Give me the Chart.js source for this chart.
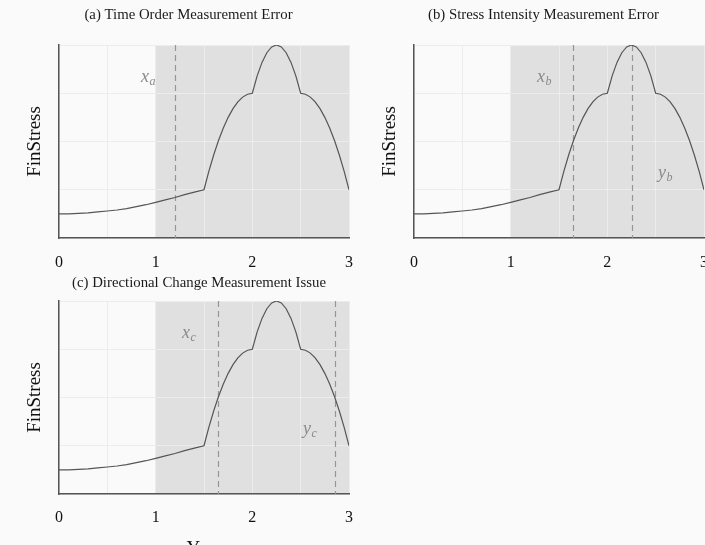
<!DOCTYPE html>
<html><head><meta charset="utf-8">
<script src="https://cdn.jsdelivr.net/npm/chart.js@4/dist/chart.umd.min.js"></script>
<style>
html,body{margin:0;padding:0;background:#fafafa;width:705px;height:545px;overflow:hidden;position:relative}
.p{position:absolute;overflow:hidden}
canvas{display:block}
</style></head><body>
<div class="p" style="left:0;top:0;width:360px;height:270px"><canvas id="ca" width="360" height="270"></canvas></div>
<div class="p" style="left:355px;top:0;width:360px;height:270px"><canvas id="cb" width="360" height="270"></canvas></div>
<div class="p" style="left:0;top:270px;width:360px;height:300px"><canvas id="cc" width="360" height="300"></canvas></div>
<script>
// ---- data ----
const years = [0,0.1,0.2,0.3,0.4,0.5,0.6,0.7,0.8,0.9,1.0,1.1,1.2,1.3,1.4,1.5,
  1.55,1.6,1.65,1.7,1.75,1.8,1.85,1.9,1.95,2.0,2.05,2.1,2.15,2.2,2.25,2.3,2.35,2.4,2.45,2.5,
  2.55,2.6,2.65,2.7,2.75,2.8,2.85,2.9,2.95,3.0];
const finStress = [0.50,0.50,0.51,0.52,0.54,0.56,0.58,0.61,0.65,0.69,0.74,0.79,0.84,0.90,0.95,1.00,
  1.38,1.72,2.02,2.28,2.50,2.68,2.82,2.92,2.98,3.00,3.36,3.64,3.84,3.96,4.00,3.96,3.84,3.64,3.36,3.00,
  2.98,2.92,2.82,2.68,2.50,2.28,2.02,1.72,1.38,1.00];
const xTickValues = [0,0.5,1,1.5,2,2.5,3];
const xTickLabels = {0:'0',1:'1',2:'2',3:'3'};
const yTickValues = [0,1,2,3,4];
const titles = ['(a) Time Order Measurement Error','(b) Stress Intensity Measurement Error','(c) Directional Change Measurement Issue'];
const shadeFrom = 1, shadeTo = 3;
const markersA = [1.2];
const markersB = [1.65, 2.25];
const markersC = [1.65, 2.85];
const labelsA = [{x:0.889, y:3.31, base:'x', sub:'a'}];
const labelsB = [{x:1.313, y:3.31, base:'x', sub:'b'}, {x:2.565, y:1.33, base:'y', sub:'b'}];
const labelsC = [{x:1.313, y:3.31, base:'x', sub:'c'}, {x:2.565, y:1.33, base:'y', sub:'c'}];
const yTitle = 'FinStress';
const xTitle = 'Year';

const SERIF = '"Liberation Serif", "Times New Roman", serif';

function makeChart(cfg){
  const decor = {
    id: 'decor',
    beforeDraw(chart){
      const {ctx, chartArea:a, scales:{x}} = chart;
      ctx.save();
      ctx.fillStyle = '#e0e0e0';
      const x0 = x.getPixelForValue(shadeFrom), x1 = x.getPixelForValue(shadeTo);
      ctx.fillRect(x0, a.top, x1 - x0, a.bottom - a.top);
      ctx.fillStyle = '#1a1a1a';
      ctx.font = '14.8px ' + SERIF;
      ctx.textAlign = 'center'; ctx.textBaseline = 'middle';
      ctx.fillText(cfg.title, cfg.titleX, cfg.titleY);
      ctx.restore();
    },
    beforeDatasetsDraw(chart){
      const {ctx, chartArea:a, scales:{x, y}} = chart;
      ctx.save();
      ctx.strokeStyle = '#969696'; ctx.lineWidth = 1.2; ctx.setLineDash([6,4]);
      cfg.markers.forEach(m => {
        const px = Math.round(x.getPixelForValue(m)) + 0.5;
        ctx.beginPath(); ctx.moveTo(px, a.top); ctx.lineTo(px, a.bottom); ctx.stroke();
      });
      ctx.setLineDash([]);
      ctx.fillStyle = '#8a8a8a';
      cfg.labels.forEach(l => {
        const px = x.getPixelForValue(l.x), py = y.getPixelForValue(l.y);
        const size = 18;
        const base = py + 0.225 * size;
        ctx.font = 'italic ' + size + 'px ' + SERIF;
        ctx.textAlign = 'center'; ctx.textBaseline = 'alphabetic';
        ctx.fillText(l.base, px, base);
        ctx.font = 'italic 12px ' + SERIF;
        ctx.textAlign = 'left';
        ctx.fillText(l.sub, px + 4.5, base + 3);
      });
      ctx.restore();
    }
  };
  return new Chart(document.getElementById(cfg.id), {
    type: 'line',
    data: { datasets: [{
      data: years.map((v, i) => ({x: v, y: finStress[i]})),
      borderColor: '#555555', borderWidth: 1.2, pointRadius: 0, tension: 0, fill: false
    }]},
    options: {
      responsive: false, animation: false,
      layout: { padding: { top: cfg.padTop, left: 0, right: 11, bottom: 0 } },
      plugins: { legend: {display: false}, tooltip: {enabled: false}, title: {display: false} },
      scales: {
        x: {
          type: 'linear', min: 0, max: 3,
          afterBuildTicks: s => { s.ticks = xTickValues.map(v => ({value: v})); },
          ticks: { callback: v => (xTickLabels[v] !== undefined ? xTickLabels[v] : ''),
                   font: {family: SERIF, size: 16}, color: '#111', padding: cfg.tickPad,
                   maxRotation: 0, autoSkip: false },
          grid: { color: '#ececec', drawTicks: false },
          border: { display: true, color: '#555', width: 1.5 },
          title: cfg.showXTitle ? { display: true, text: xTitle, font: {family: SERIF, size: 19}, color: '#111', padding: {top: 0, bottom: 9.6} } : {display: false},
          afterFit: s => { s.height = cfg.xh; s.paddingLeft = 0; s.paddingRight = 0; }
        },
        y: {
          type: 'linear', min: 0, max: 4,
          afterBuildTicks: s => { s.ticks = yTickValues.map(v => ({value: v})); },
          ticks: { display: false },
          grid: { color: '#ececec', drawTicks: false },
          border: { display: true, color: '#555', width: 1.5 },
          title: { display: true, text: yTitle, font: {family: SERIF, size: 19}, color: '#111', padding: {top: 24, bottom: 0} },
          afterFit: s => { s.width = 59; s.paddingTop = 0; s.paddingBottom = 0; }
        }
      }
    },
    plugins: [decor]
  });
}

makeChart({id:'ca', title:titles[0], titleX:188.5, titleY:15, markers:markersA, labels:labelsA, padTop:45, xh:32, tickPad:15, showXTitle:false});
makeChart({id:'cb', title:titles[1], titleX:188.5, titleY:15, markers:markersB, labels:labelsB, padTop:45, xh:32, tickPad:15, showXTitle:false});
makeChart({id:'cc', title:titles[2], titleX:199, titleY:13, markers:markersC, labels:labelsC, padTop:31, xh:76, tickPad:14, showXTitle:true});
</script>
</body></html>
